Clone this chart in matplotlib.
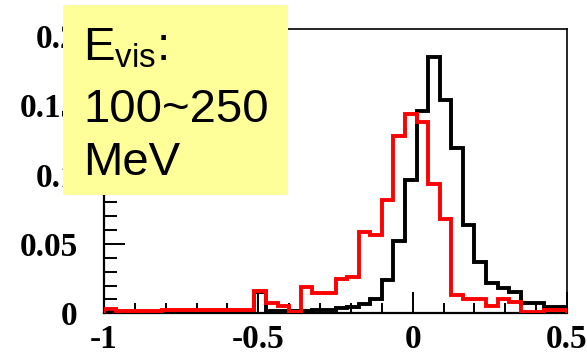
import numpy as np
import matplotlib
matplotlib.use("Agg")
import matplotlib.pyplot as plt
from matplotlib.patches import Rectangle

# bin range of the histograms (40 bins from -1 to 0.5)
x_min, x_max, n_bins = -1.0, 0.5, 40

# black histogram, bin contents
black_vals = [0.0006, 0.0006, 0.0006, 0.0006, 0.0006, 0.0006, 0.0006, 0.0006,
              0.0006, 0.0006, 0.0006, 0.0006, 0.0006, 0.0150, 0.0015, 0.0015,
              0.0015, 0.0015, 0.0022, 0.0025, 0.0035, 0.0045, 0.0065, 0.0100,
              0.0240, 0.0520, 0.0960, 0.1460, 0.1850, 0.1540, 0.1190, 0.0640,
              0.0370, 0.0220, 0.0185, 0.0156, 0.0072, 0.0072, 0.0048, 0.0048]

# red histogram
red_vals = [0.0030, 0.0015, 0.0015, 0.0015, 0.0015, 0.0025, 0.0025, 0.0025,
            0.0025, 0.0025, 0.0025, 0.0025, 0.0025, 0.0160, 0.0072, 0.0055,
            0.0012, 0.0190, 0.0144, 0.0144, 0.0250, 0.0260, 0.0587, 0.0563,
            0.0815, 0.1280, 0.1440, 0.1380, 0.0935, 0.0680, 0.0135, 0.0106,
            0.0106, 0.0055, 0.0106, 0.0080, 0.0012, 0.0012, 0.0022, 0.0022]

x_ticks = [-1, -0.5, 0, 0.5]
x_labels = ["-1", "-0.5", "0", "0.5"]
y_ticks = [0, 0.05, 0.1, 0.15, 0.2]
y_labels = ["0", "0.05", "0.1", "0.15", "0.2"]

plt.rcParams["axes.unicode_minus"] = False
plt.rcParams["mathtext.fontset"] = "custom"
plt.rcParams["mathtext.rm"] = "Liberation Sans"

W, H = 587, 357
fig = plt.figure(figsize=(W / 100, H / 100), dpi=100)
ax = fig.add_axes([104 / W, 1 - 313.3 / H, (567 - 104) / W, (313.3 - 29) / H])

edges = np.linspace(x_min, x_max, n_bins + 1)
ax.stairs(black_vals, edges, color="black", linewidth=2.8, zorder=2)
ax.stairs(red_vals, edges, color="red", linewidth=2.8, zorder=3)

ax.set_xlim(x_min, x_max)
ax.set_ylim(0, 0.205)

ax.set_xticks(x_ticks)
ax.set_xticklabels(x_labels)
ax.set_yticks(y_ticks)
ax.set_yticklabels(y_labels)
ax.set_xticks(np.arange(-0.9, 0.5, 0.1), minor=True)
ax.set_yticks(np.arange(0.01, 0.2, 0.01), minor=True)

ax.tick_params(axis="both", which="both", direction="in", width=1.4,
               top=False, right=False)
ax.tick_params(axis="y", which="major", length=15, pad=19)
ax.tick_params(axis="y", which="minor", length=9)
ax.tick_params(axis="x", which="major", length=15, pad=8)
ax.tick_params(axis="x", which="minor", length=7)
for lab in ax.get_xticklabels() + ax.get_yticklabels():
    lab.set_fontfamily("Liberation Serif")
    lab.set_fontweight("bold")
    lab.set_fontsize(24)

for side in ["left", "bottom"]:
    ax.spines[side].set_linewidth(1.6)
for side in ["top", "right"]:
    ax.spines[side].set_linewidth(1.2)

# yellow label box sitting over the upper-left corner
box = Rectangle((63.3 / W, 1 - 195 / H), 225 / W, 190 / H,
                transform=fig.transFigure, facecolor="#ffff99",
                edgecolor="none", zorder=5)
fig.add_artist(box)

txt_kw = dict(fontfamily="Liberation Sans", fontsize=34, va="baseline",
              ha="left", zorder=6)
fig.text(83 / W, 1 - 60 / H, r"E$_{\rm vis}$:", **txt_kw)
fig.text(83 / W, 1 - 121.7 / H, "100~250", **txt_kw)
fig.text(83 / W, 1 - 175 / H, "MeV", **txt_kw)

fig.savefig("out.png", dpi=100)
